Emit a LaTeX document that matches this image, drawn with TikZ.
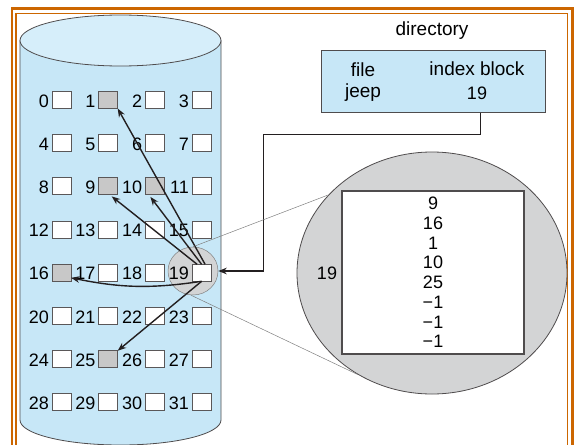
\documentclass[tikz,border=0pt]{standalone}
\usepackage{fontspec}
\setmainfont{Liberation Sans}
\usetikzlibrary{shapes.geometric,arrows.meta}
\definecolor{diskblue}{RGB}{199,231,247}
\definecolor{disktop}{RGB}{214,238,250}
\definecolor{lensgray}{RGB}{211,212,213}
\definecolor{usedgray}{RGB}{200,200,200}
\definecolor{framed}{RGB}{204,102,0}
\definecolor{ink}{RGB}{35,31,32}
\begin{document}
\begin{tikzpicture}[x=1pt,y=-1pt,>={Stealth[length=8.5pt,width=6.5pt]},font=\fontsize{18}{19.7}\selectfont,
  blk/.style={draw=ink!75,line width=1pt,fill=white,minimum width=19pt,minimum height=17pt,inner sep=0pt,outer sep=0pt},
  num/.style={inner sep=0pt,anchor=base east},
  dirtxt/.style={anchor=base,font=\fontsize{19}{21}\selectfont},
  ptr/.style={->,draw=ink,line width=1.4pt}]
\useasboundingbox (0,0) rectangle (580,444);
\clip (0,0) rectangle (580,444);
\draw[framed,line width=2.5pt] (12,8.3) rectangle (572.5,470);
\draw[framed,line width=1.5pt] (16,13.3) rectangle (567.5,470);
\filldraw[fill=diskblue,draw=ink!80,line width=.8pt] (20,40.5) -- (20,420)
  arc[start angle=180,end angle=360,x radius=100.5pt,y radius=25pt] -- (221,40.5);
\filldraw[fill=disktop,draw=ink!80,line width=.8pt] (120.5,40.5) ellipse[x radius=100.5pt,y radius=25.5pt];
\node[ellipse,fill=lensgray,draw=gray,line width=.5pt,minimum width=50pt,minimum height=48pt,inner sep=0pt] (zoom) at (193,271) {};
\foreach \n in {0,...,31}{
  \pgfmathtruncatemacro\c{mod(\n,4)}
  \pgfmathtruncatemacro\r{div(\n,4)}
  \node[blk] (b\n) at (61.5+46.7*\c,100+43.2*\r) {};
  \node[num] (l\n) at ([xshift=-3pt,yshift=-7pt]b\n.west) {\n};
}
\foreach \n in {1,9,10,16,25}
  \filldraw[fill=usedgray,draw=ink!75,line width=1pt] (b\n.south west) rectangle (b\n.north east);
\draw[ptr] ([xshift=3.5pt]b19.north) -- (b1.south east);
\draw[ptr] (b19.north) -- ([xshift=5pt,yshift=-2pt]b10.south west);
\draw[ptr] ([xshift=-4.5pt]b19.north) -- ([xshift=-6pt,yshift=-1.5pt]b9.south east);
\draw[ptr] (b19.south) to[bend left=10] ([yshift=-5pt]b16.east);
\draw[ptr] (b19.south) -- (b25.north east);
\node[dirtxt] (dirlbl) at (432,35.7) {directory};
\node[draw=ink!80,fill=diskblue,line width=1pt,minimum width=224pt,minimum height=61pt] (dirbox) at (433,81.5) {};
\node[dirtxt] (fname) at (363,76) {file};
\node[dirtxt] (jeep) at (363,97) {jeep};
\node[dirtxt] (idxhead) at (477,75.5) {index block};
\node[anchor=base] (idx19) at (477,99.5) {19};
\coordinate (drop) at ([xshift=3.5pt]idx19.south);
\draw[ptr] (drop |- dirbox.south) -- ++(0,22) -| ([xshift=45pt]zoom.east) -- (zoom.east);
\node[ellipse,fill=lensgray,draw=ink!80,line width=.8pt,minimum width=270pt,minimum height=242pt,inner sep=0pt] (lens) at (432,273) {};
\draw[gray,line width=.5pt] (zoom.north) -- (lens.143);
\draw[gray,line width=.5pt] (zoom.265) -- (lens.234);
\node[draw=ink!80,fill=white,line width=1.2pt,minimum width=182pt,minimum height=163pt,align=center] (iblock) at (433,272.5)
  {9\\16\\1\\10\\25\\−1\\−1\\−1};
\node (n19) at (327,273) {19};
\end{tikzpicture}
\end{document}
